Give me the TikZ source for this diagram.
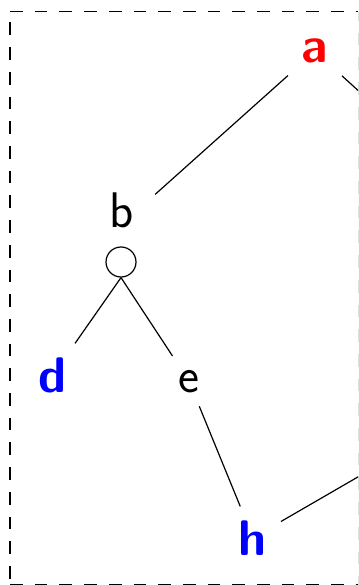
\documentclass[tikz,border=0pt]{standalone}
\begin{document}
\begin{tikzpicture}[x=1pt,y=-1pt,line width=1.2pt,
  lbl/.style={font=\fontsize{50}{60}\selectfont\sffamily, inner sep=13.3pt, anchor=base},
  hi/.style={lbl, font=\fontsize{50}{60}\selectfont\sffamily\bfseries},
  frame/.style={dash pattern=on 12.7pt off 12pt}]
\useasboundingbox (0,0) rectangle (358,585);
\clip (0,0) rectangle (358,585);
\definecolor{myred}{RGB}{255,0,0}
\definecolor{myblue}{RGB}{0,0,255}
% dashed frame
\draw[frame] (10,11.8) -- (358.1,11.8);
\draw[frame, dash phase=14pt] (10,11.8) -- (10,584.8);
\draw[frame] (10,584.8) -- (358.1,584.8);
\draw[frame, dash phase=3.7pt] (358.1,11.8) -- (358.1,584.8);
% nodes
\node[hi, text=myred] (a) at (315,63) {a};
\node[lbl] (b) at (122,227) {b};
\node[draw, circle, minimum size=30pt, inner sep=0pt] (circ) at (121,262) {};
\node[inner sep=0pt, minimum width=80pt, minimum height=60pt] (bt) at (121,225) {};
\node[hi, text=myblue] (d) at (53,392) {d};
\node[lbl] (e) at (189,392) {e};
\node[hi, text=myblue] (h) at (253,555) {h};
\coordinate (c) at (515,233);
\coordinate (g) at (553,364);
% connectors
\draw (a) -- (bt);
\draw (a) -- (c);
\draw (circ.south) -- (d);
\draw (circ.south) -- (e);
\draw (e) -- (h);
\draw (h) -- (g);
\end{tikzpicture}
\end{document}
